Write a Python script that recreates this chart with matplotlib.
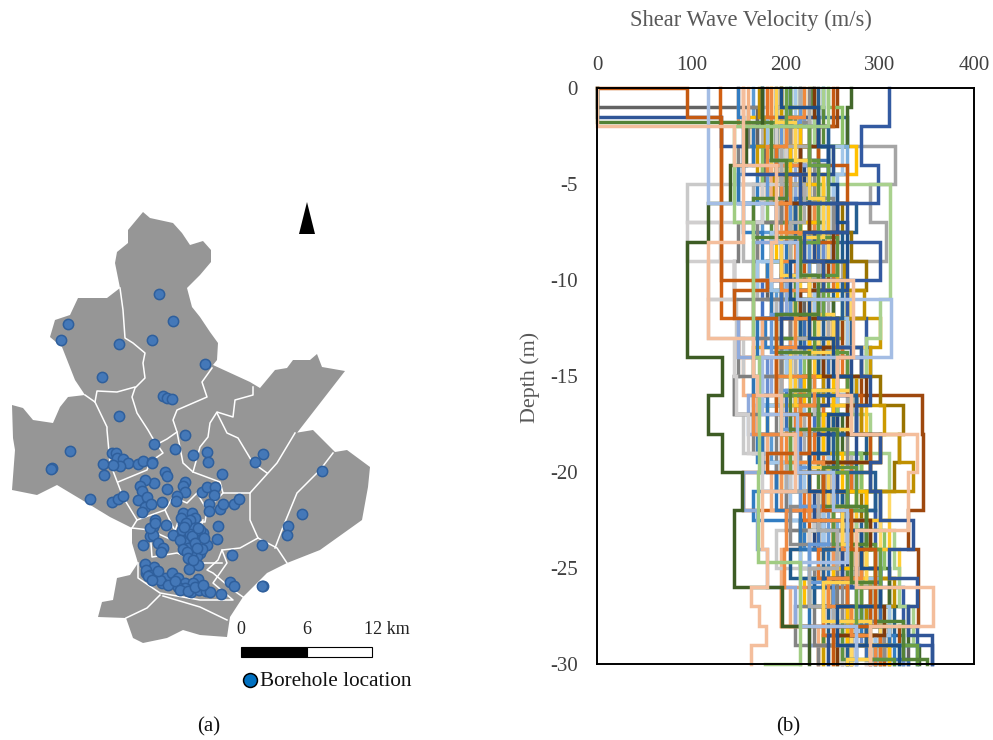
import numpy as np
import matplotlib
matplotlib.use("Agg")
import matplotlib.pyplot as plt
from matplotlib.patches import Polygon, Rectangle

plt.rcParams['font.family'] = ['Liberation Serif', 'DejaVu Serif']

# map outline, traced in picture pixels
outline_x = [143, 150, 173, 182, 190, 203, 211, 211, 200, 187, 192, 200, 210, 218, 217, 213, 250, 260, 275, 287,
             293, 310, 317, 322, 345, 293, 295, 313, 335, 347, 370, 368, 362, 320, 287, 267, 243, 230, 227, 200,
             183, 167, 143, 133, 126, 98, 102, 113, 117, 130, 138, 132, 132, 110, 87, 57, 37, 12, 15, 13,
             12, 23, 33, 53, 60, 68, 85, 75, 62, 50, 55, 70, 78, 107, 120, 115, 117, 128, 128]
outline_y = [212, 218, 223, 233, 245, 241, 250, 262, 275, 288, 307, 317, 332, 343, 360, 365, 382, 388, 370, 368,
             360, 360, 354, 367, 371, 438, 433, 430, 452, 450, 467, 487, 520, 550, 563, 573, 597, 617, 637, 635,
             630, 638, 643, 638, 618, 617, 602, 600, 578, 575, 563, 543, 528, 517, 503, 485, 495, 490, 450, 438,
             405, 408, 420, 423, 407, 397, 395, 380, 347, 337, 320, 315, 298, 298, 288, 263, 252, 243, 230]

# district borders
border_lines = [
    ([120, 123, 125, 133, 145, 143, 145, 135, 132, 137, 148, 152, 163, 150, 147, 118],
     [288, 310, 338, 343, 353, 363, 378, 388, 397, 413, 430, 437, 453, 462, 470, 482]),
    ([85, 95, 107, 107, 110, 123, 137, 132], [395, 402, 427, 430, 463, 497, 520, 528]),
    ([95, 97, 117, 135], [402, 391, 392, 387]),
    ([212, 202, 207, 177, 173, 177, 183, 193, 220, 223, 250], [368, 382, 397, 410, 420, 432, 463, 472, 482, 493, 493]),
    ([177, 167, 152], [432, 439, 447]),
    ([253, 253, 235, 233, 217, 210, 208, 200, 193], [387, 395, 400, 417, 412, 423, 437, 447, 472]),
    ([217, 227, 238, 253, 267], [413, 433, 438, 463, 473]),
    ([295, 277, 250, 250, 258, 277, 287], [433, 463, 493, 520, 538, 548, 563]),
    ([333, 320, 297, 283, 275], [453, 470, 493, 527, 548]),
    ([137, 165, 173, 187, 197, 207, 223], [520, 510, 497, 503, 493, 510, 493]),
    ([138, 138, 160, 200, 233, 213, 227, 222, 240, 258], [563, 578, 593, 600, 600, 583, 563, 550, 548, 538]),
    ([160, 147, 126], [595, 608, 618]),
    ([163, 200, 227], [596, 607, 620]),
    ([243, 233, 213, 207, 218, 222], [597, 590, 573, 570, 560, 550]),
    ([132, 150, 152, 177, 203, 222], [528, 530, 557, 553, 563, 563]),
    ([165, 172, 180, 180, 197, 203], [510, 525, 540, 553, 540, 520]),
    ([150, 172, 178, 205, 207], [530, 540, 522, 522, 510]),
]

# borehole locations
hole_x = [159, 173, 68, 61, 119, 152, 205, 102, 163, 167, 172, 119, 185, 154, 175, 70, 193, 207, 208, 263,
          255, 322, 52, 51, 112, 116, 117, 123, 128, 120, 113, 103, 104, 138, 143, 152, 152, 165, 167, 222,
          185, 183, 185, 154, 145, 140, 142, 167, 202, 207, 215, 214, 177, 176, 90, 112, 118, 123, 138, 147,
          145, 142, 151, 162, 209, 209, 220, 223, 234, 239, 302, 288, 287, 262, 218, 217, 232, 230, 234, 263,
          262, 183, 192, 195, 183, 193, 166, 155, 153, 150, 153, 173, 183, 187, 195, 203, 207, 183, 188, 158,
          143, 163, 161, 200, 197, 191, 192, 198, 189, 145, 146, 154, 157, 165, 172, 162, 178, 185, 198, 178,
          191, 199, 206, 210, 221, 193, 185, 182, 190, 200, 192, 182, 190, 197, 186, 194, 184, 146, 150, 181,
          186, 190, 194, 184, 188, 192, 198, 204, 180, 183, 187, 195, 202, 150, 155, 160, 168, 175, 180, 188,
          195, 203, 188, 193, 197, 148, 152, 158]
hole_y = [294, 321, 324, 340, 344, 340, 364, 377, 396, 398, 399, 416, 435, 444, 449, 451, 455, 452, 462, 454,
          462, 471, 468, 469, 453, 453, 458, 459, 463, 466, 465, 464, 475, 464, 461, 462, 463, 472, 476, 474,
          482, 486, 492, 483, 480, 486, 491, 489, 492, 487, 487, 495, 496, 501, 499, 502, 499, 496, 500, 497,
          507, 512, 504, 502, 504, 511, 509, 504, 504, 499, 514, 526, 535, 545, 526, 539, 555, 582, 586, 586,
          586, 513, 513, 518, 523, 527, 525, 520, 527, 536, 535, 535, 533, 534, 537, 533, 545, 545, 543, 543,
          545, 548, 552, 553, 556, 554, 563, 565, 569, 564, 573, 567, 573, 578, 573, 583, 578, 583, 579, 587,
          592, 590, 591, 592, 594, 583, 588, 537, 538, 530, 547, 530, 520, 530, 541, 528, 550, 570, 575, 518,
          523, 534, 541, 527, 548, 536, 528, 538, 540, 549, 552, 543, 549, 528, 523, 580, 585, 581, 590, 591,
          587, 585, 558, 560, 548, 576, 580, 571]

# shared layer grids for the velocity profiles (m)
z_a = [0, 1.5, 3, 4.5, 6, 7.5, 9, 10.5, 12, 13.5, 15, 16.5, 18, 19.5, 21, 22.5, 24, 25.5, 27, 28.5, 30]
z_b = [0, 2, 4, 6, 8, 10, 12, 14, 16, 18, 20, 22, 24, 26, 28, 29, 30]
z_c = [0, 1, 3, 5, 7, 9, 11, 13, 15, 17, 19, 21, 23, 25, 27, 29, 30]
z_e = [0, 1.75, 3.75, 5.75, 7.75, 9.75, 11.75, 13.75, 15.75, 17.75, 19.75, 21.75, 23.75, 25.75, 27.75, 29.75, 30]

profiles = [
    (z_a, '#5B9BD5', [165, 170, 155, 150, 175, 185, 200, 190, 215, 200, 175, 210, 185, 205, 225, 240, 225, 250, 265, 260]),
    (z_b, '#ED7D31', [155, 190, 175, 200, 215, 210, 235, 225, 210, 240, 225, 250, 260, 245, 285, 270]),
    (z_c, '#A5A5A5', [190, 200, 316, 290, 307, 260, 240, 250, 265, 235, 270, 285, 255, 300, 290, 310]),
    (z_a, '#FFC000', [185, 160, 275, 240, 215, 190, 180, 205, 195, 165, 220, 180, 225, 195, 250, 235, 255, 220, 270, 300]),
    (z_b, '#4472C4', [230, 200, 215, 235, 250, 175, 195, 205, 230, 215, 245, 240, 280, 265, 300, 290]),
    (z_c, '#70AD47', [210, 190, 215, 240, 225, 245, 260, 235, 270, 250, 280, 265, 285, 300, 310, 295]),
    (z_a, '#255E91', [240, 265, 215, 225, 275, 245, 235, 250, 270, 290, 275, 255, 285, 270, 295, 280, 300, 290, 315, 325]),
    (z_b, '#9E480E', [255, 225, 200, 210, 245, 230, 260, 280, 345, 346, 346, 330, 341, 341, 320, 310]),
    (z_c, '#636363', [0, 170, 178, 195, 205, 180, 220, 240, 215, 245, 225, 260, 250, 275, 300, 330]),
    (z_a, '#997300', [195, 210, 235, 220, 260, 270, 285, 270, 265, 255, 300, 325, 320, 315, 280, 275, 295, 310, 300, 270]),
    (z_b, '#264478', [215, 190, 220, 245, 250, 265, 205, 195, 255, 225, 245, 230, 265, 280, 270, 300]),
    (z_c, '#43682B', [270, 265, 195, 205, 240, 225, 250, 235, 215, 260, 290, 300, 280, 310, 330, 342]),
    (z_a, '#7CAFDD', [240, 215, 265, 250, 225, 245, 195, 205, 255, 280, 230, 240, 210, 200, 225, 255, 270, 290, 285, 305]),
    (z_b, '#F1975A', [150, 165, 180, 195, 170, 185, 205, 225, 200, 210, 195, 235, 250, 195, 240, 260]),
    (z_c, '#B7B7B7', [180, 175, 190, 165, 155, 170, 190, 215, 230, 240, 270, 215, 245, 265, 285, 305]),
    (z_a, '#FFCD33', [225, 205, 185, 230, 205, 235, 215, 265, 225, 245, 190, 215, 245, 280, 245, 250, 320, 290, 255, 240]),
    (z_b, '#698ED0', [205, 215, 235, 225, 240, 195, 175, 180, 165, 195, 200, 235, 255, 290, 280, 325]),
    (z_c, '#8CC168', [245, 260, 175, 180, 205, 195, 235, 220, 255, 235, 280, 260, 305, 295, 285, 320]),
    (z_a, '#327DC2', [150, 155, 190, 170, 155, 175, 180, 195, 178, 205, 190, 170, 170, 190, 165, 220, 235, 250, 280, 315]),
    (z_b, '#D26012', [130, 132, 132, 132, 132, 132, 150, 195, 250, 175, 155, 225, 240, 265, 255, 235]),
    (z_c, '#848484', [175, 160, 150, 195, 170, 165, 205, 150, 145, 165, 190, 240, 260, 230, 210, 235]),
    (z_a, '#CC9A00', [195, 195, 170, 185, 230, 215, 240, 265, 300, 290, 275, 305, 300, 250, 235, 265, 280, 225, 260, 240]),
    (z_b, '#335AA1', [310, 280, 298, 255, 300, 265, 285, 240, 275, 245, 265, 295, 270, 325, 340, 355]),
    (z_c, '#5A8A39', [228, 240, 190, 210, 185, 200, 215, 195, 225, 205, 235, 250, 215, 265, 240, 255]),
    (z_a, '#A3C7E9', [210, 235, 260, 250, 200, 185, 170, 230, 210, 200, 165, 195, 180, 220, 205, 240, 215, 265, 290, 275]),
    (z_b, '#F4B183', [160, 205, 185, 215, 195, 165, 175, 155, 170, 180, 185, 215, 195, 205, 235, 285]),
    (z_c, '#C9C9C9', [205, 215, 235, 95, 130, 118, 148, 155, 145, 155, 205, 230, 190, 245, 275, 260]),
    (z_a, '#FFD966', [235, 225, 210, 190, 225, 245, 255, 270, 235, 285, 255, 265, 290, 240, 310, 300, 240, 280, 300, 270]),
    (z_b, '#8FAADC', [220, 245, 210, 190, 165, 200, 150, 185, 160, 175, 155, 170, 180, 210, 225, 245]),
    (z_c, '#A9D18E', [240, 230, 250, 311, 311, 311, 300, 285, 270, 290, 310, 275, 315, 320, 335, 305]),
    (z_a, '#1F5A8C', [175, 190, 205, 195, 250, 260, 255, 240, 215, 235, 210, 250, 235, 275, 260, 215, 205, 230, 245, 295]),
    (z_b, '#C55A11', [250, 235, 265, 255, 220, 195, 245, 265, 280, 290, 250, 270, 280, 290, 310, 305]),
    (z_c, '#7F7F7F', [195, 205, 225, 195, 150, 145, 165, 195, 145, 190, 215, 200, 270, 255, 230, 295]),
    (z_a, '#BF9000', [172, 178, 200, 188, 225, 235, 262, 283, 250, 210, 240, 280, 320, 335, 285, 290, 270, 315, 285, 265]),
    (z_b, '#2E75B6', [175, 165, 150, 190, 200, 185, 170, 165, 180, 175, 190, 215, 245, 225, 310, 340]),
    (z_a, '#9DC3E6', [200, 180, 245, 255, 240, 220, 185, 240, 265, 245, 255, 220, 245, 210, 240, 285, 300, 275, 310, 295]),
    (z_b, '#EF8B45', [185, 215, 195, 230, 210, 225, 250, 190, 165, 195, 245, 200, 198, 195, 265, 295]),
    (z_c, '#D0CECE', [195, 190, 200, 175, 95, 145, 118, 145, 148, 160, 175, 250, 225, 280, 260, 285]),
    (z_a, '#FFC72C', [215, 195, 225, 240, 245, 205, 225, 210, 245, 230, 210, 285, 265, 225, 275, 310, 285, 245, 270, 250]),
    (z_e, '#3A6FB5', [205, 225, 245, 210, 235, 195, 220, 245, 200, 225, 255, 235, 260, 300, 285, 330]),
    (z_a, '#E57325', [180, 205, 190, 215, 200, 230, 250, 235, 225, 260, 215, 240, 230, 270, 220, 250, 235, 265, 240, 300]),
    (z_e, '#8C8C8C', [225, 205, 230, 250, 215, 240, 225, 255, 235, 265, 240, 205, 275, 260, 305, 290]),
    (z_c, '#FFBF00', [195, 215, 205, 235, 215, 255, 210, 225, 250, 240, 260, 285, 270, 250, 265, 310]),
    (z_a, '#2A4F8F', [190, 235, 250, 205, 255, 230, 265, 215, 195, 270, 245, 235, 275, 255, 230, 285, 260, 240, 275, 245]),
    (z_e, '#5F9441', [205, 185, 235, 215, 255, 210, 230, 265, 235, 255, 275, 250, 295, 280, 260, 315]),
    (z_b, '#265E92', [235, 245, 225, 210, 195, 260, 240, 225, 275, 250, 295, 265, 240, 250, 285, 265]),
    (z_a, '#7F3A0B', [230, 235, 215, 200, 225, 250, 240, 215, 255, 240, 285, 265, 300, 240, 265, 290, 275, 250, 305, 255]),
    (z_e, '#6699D8', [215, 195, 180, 205, 225, 205, 185, 215, 195, 225, 215, 245, 225, 250, 275, 265]),
    (z_c, '#ACACAC', [215, 225, 195, 220, 205, 235, 245, 210, 195, 220, 200, 235, 255, 225, 250, 275]),
    (z_a, '#F08A3C', [220, 200, 180, 205, 190, 215, 195, 225, 210, 190, 230, 215, 200, 240, 225, 260, 280, 245, 270, 290]),
    (z_e, '#FFD24D', [190, 210, 225, 240, 195, 225, 250, 205, 270, 225, 245, 260, 285, 240, 290, 265]),
    (z_c, '#1D4E89', [195, 235, 245, 255, 265, 205, 225, 250, 270, 245, 225, 265, 280, 300, 255, 320]),
    (z_b, '#6BA046', [200, 225, 245, 235, 215, 240, 255, 225, 195, 205, 265, 285, 300, 275, 325, 340]),
    (z_a, '#2F5597', [0, 132, 155, 215, 265, 220, 240, 235, 255, 280, 290, 275, 300, 290, 300, 335, 310, 340, 330, 355]),
    (z_e, '#548235', [0, 185, 200, 165, 215, 235, 190, 225, 205, 255, 240, 285, 270, 295, 325, 350]),
]

# profiles that stand out at the edges of the cloud
dark_green_z = [0, 2, 4, 6, 8, 14, 16, 18, 20, 22, 26, 28, 30]
dark_green_vs = [175, 158, 141, 118, 95, 133, 118, 133, 154, 145, 196, 225]
rust_z = [0, 0, 1.5, 10, 10.5, 12, 17, 19, 20, 22, 24, 28, 30]
rust_vs = [0, 95, 132, 180, 145, 190, 225, 180, 240, 270, 295, 250]
peach_top_z = [0, 2, 4, 6, 8, 10, 14, 16, 18, 20, 23, 26, 28, 30]
peach_top_vs = [0, 145, 190, 190, 185, 272, 255, 270, 340, 330, 275, 357, 290]
peach_low_z = [0, 8, 13, 15, 16, 18, 21, 24, 26, 27, 28, 29, 30]
peach_low_vs = [155, 118, 165, 170, 195, 210, 175, 180, 163, 172, 179, 163]
periwinkle_z = [0, 2, 6, 8, 11, 14, 17, 20, 22, 24.7, 26, 28, 30]
periwinkle_vs = [118, 118, 190, 212, 312, 175, 212, 250, 265, 215, 215, 275]
lime_z = [0, 2, 7, 14, 20, 24.7, 30]
lime_vs = [245, 145, 165, 172, 171, 215]
lime_tail_vs = [178, 215]

outline_color = '#969696'
hole_fill = '#4478B8'
hole_edge = '#2F5F9C'
line_w = 2.5


def stair(z, vs):
    # turn layer tops/bases and velocities into a stepped line
    y = -np.repeat(z, 2)[1:-1]
    x = np.repeat(vs, 2)
    return x, y


fig = plt.figure(figsize=(9.93, 7.40), dpi=100)

# whole-figure axes working in pixels, used for the map side
ax_map = fig.add_axes([0, 0, 1, 1])
ax_map.set_xlim(0, 993)
ax_map.set_ylim(740, 0)
ax_map.axis('off')

ax_map.add_patch(Polygon(np.column_stack([outline_x, outline_y]), closed=True, fc=outline_color, ec='none'))
for bx, by in border_lines:
    ax_map.plot(bx, by, color='white', lw=1.1, solid_joinstyle='round')
ax_map.plot(hole_x, hole_y, 'o', ms=7.4, mfc=hole_fill, mec=hole_edge, mew=1.1, ls='none')

# north arrow
ax_map.add_patch(Polygon([(307, 202), (299, 234), (315, 234)], closed=True, fc='black', ec='none'))

# scale bar
ax_map.add_patch(Rectangle((241, 647), 66, 10, fc='black', ec='black', lw=0.8))
ax_map.add_patch(Rectangle((307, 647), 65, 10, fc='white', ec='black', lw=0.8))
for sx, slabel in zip([241, 307, 387], ['0', '6', '12 km']):
    ax_map.text(sx, 629, slabel, ha='center', va='center', fontsize=13, color='#222222')

# legend
ax_map.plot([250], [680], 'o', ms=10, mfc='#0070C0', mec='black', mew=1.1)
ax_map.text(260, 681, 'Borehole location', ha='left', va='center', fontsize=15.3, color='#111111')

ax_map.text(209, 727, '(a)', ha='center', va='center', fontsize=15, color='#111111')
ax_map.text(788, 727, '(b)', ha='center', va='center', fontsize=15, color='#111111')
ax_map.text(751, 20, 'Shear Wave Velocity (m/s)', ha='center', va='center', fontsize=16.3, color='#595959')
ax_map.text(530, 377, 'Depth (m)', ha='center', va='center', rotation=90, fontsize=15.8, color='#595959')

# velocity profiles
ax = fig.add_axes([597 / 993, (740 - 664) / 740, 377 / 993, 576 / 740])
ax.patch.set_alpha(0)
for z, color, vs in profiles:
    x, y = stair(z, vs)
    ax.plot(x, y, color=color, lw=line_w, clip_on=False, solid_joinstyle='miter')

ax.plot(*stair(dark_green_z, dark_green_vs), color='#3D5C24', lw=line_w, clip_on=False, solid_joinstyle='miter')
ax.plot(*stair(rust_z, rust_vs), color='#C55A11', lw=line_w, clip_on=False, solid_joinstyle='miter')
ax.plot(*stair(periwinkle_z, periwinkle_vs), color='#A4BDE4', lw=line_w, clip_on=False, solid_joinstyle='miter')
ax.plot(*stair(lime_z, lime_vs), color='#A0CC82', lw=line_w, clip_on=False, solid_joinstyle='miter')
ax.plot(lime_tail_vs, [-30, -30], color='#A0CC82', lw=line_w, clip_on=False)
ax.plot(*stair(peach_low_z, peach_low_vs), color='#F4BE9C', lw=line_w, clip_on=False, solid_joinstyle='miter')
ax.plot(*stair(peach_top_z, peach_top_vs), color='#F4BE9C', lw=line_w, clip_on=False, solid_joinstyle='miter')

ax.set_xlim(0, 400)
ax.set_ylim(-30, 0)
ax.set_xticks([0, 100, 200, 300, 400])
ax.set_yticks([0, -5, -10, -15, -20, -25, -30])
ax.xaxis.tick_top()
ax.tick_params(axis='both', length=0, labelsize=15, labelcolor='#404040')
ax.tick_params(axis='x', pad=9.5)
ax.tick_params(axis='y', pad=14)
for side in ax.spines.values():
    side.set_linewidth(1.4)
    side.set_color('black')
ax.set_yticklabels(['0', '-5', '-10', '-15', '-20', '-25', '-30'])

fig.savefig('out.png', dpi=100)
